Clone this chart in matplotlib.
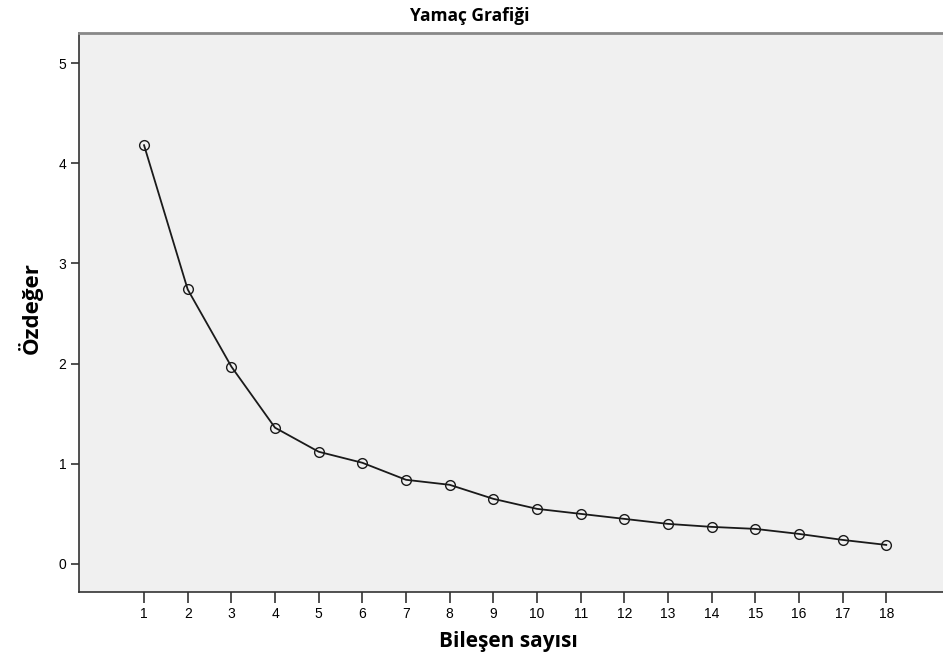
import matplotlib
matplotlib.use("Agg")
import matplotlib.pyplot as plt

components = list(range(1, 19))
eigenvalues = [4.18, 2.74, 1.97, 1.36, 1.12, 1.01, 0.84, 0.79, 0.65, 0.55,
               0.50, 0.45, 0.40, 0.37, 0.35, 0.30, 0.24, 0.19]
y_ticks = [0, 1, 2, 3, 4, 5]
title = "Yamaç Grafiği"
xlabel = "Bileşen sayısı"
ylabel = "Özdeğer"

fig = plt.figure(figsize=(9.43, 6.57), dpi=100)
ax = fig.add_axes([79/943, 65/657, 1 - 79/943, (592-33)/657])
ax.set_facecolor("#f0f0f0")
ax.plot(components, eigenvalues, color="#1a1a1a", linewidth=1.3,
        marker="o", markersize=7, markerfacecolor="none",
        markeredgecolor="#1a1a1a", markeredgewidth=1.0)
ax.set_xlim(-0.49, 19.3)
ax.set_ylim(-0.28, 5.3)
ax.set_xticks(components)
ax.set_xticklabels([str(c) for c in components])
ax.set_yticks(y_ticks)
ax.spines["right"].set_visible(False)
ax.spines["top"].set_color("#888888")
ax.spines["top"].set_linewidth(2.0)
ax.spines["left"].set_color("#333333")
ax.spines["bottom"].set_color("#333333")
ax.spines["left"].set_linewidth(1.2)
ax.spines["bottom"].set_linewidth(1.2)
ax.tick_params(axis="x", length=8, width=1.2, color="#333333", labelsize=10, pad=3)
ax.tick_params(axis="y", length=6, width=1.2, color="#333333", labelsize=10, pad=3)
for lbl in ax.get_xticklabels() + ax.get_yticklabels():
    lbl.set_family("Liberation Sans")

fig.text(470/943, 1 - 16/657, title, ha="center", va="center",
         fontsize=12.5, fontweight="bold", family="Open Sans")
fig.text(508/943, 1 - 641/657, xlabel, ha="center", va="center",
         fontsize=15, fontweight="bold", family="Open Sans")
fig.text(30/943, 1 - 308/657, ylabel, ha="center", va="center",
         fontsize=16, fontweight="bold", family="Open Sans", rotation=90)

fig.savefig("out.png", dpi=100)
